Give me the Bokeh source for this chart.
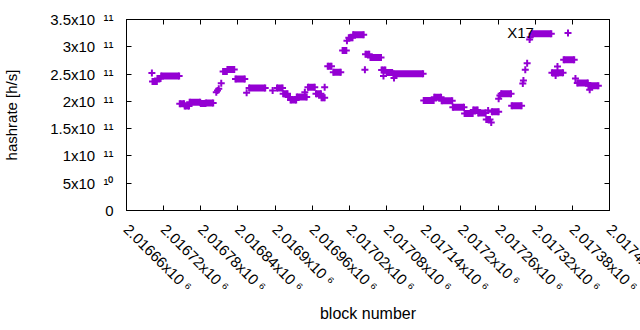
import numpy as np
from bokeh.plotting import figure
from bokeh.models import Range1d, FixedTicker, LinearAxis, ColumnDataSource, Label
from bokeh.embed import file_html
from bokeh.resources import INLINE

# ---------------- data ----------------
# runs of (nearly) constant hashrate: first block, last block, hashrate [1e9 h/s]
run_start = [2016702, 2016710, 2016716, 2016746, 2016754, 2016762, 2016780, 2016788,
             2016816, 2016823, 2016836, 2016858, 2016903, 2016913, 2016921, 2016925,
             2016935, 2016953, 2016966, 2016975, 2016985, 2016994, 2017009, 2017019,
             2017026, 2017046, 2017054, 2017072, 2017080, 2017091, 2017140, 2017157,
             2017169, 2017187, 2017206, 2017220, 2017228, 2017241, 2017250, 2017265,
             2017282, 2017315, 2017347, 2017366, 2017388, 2017406]
run_end = [2016709, 2016715, 2016745, 2016753, 2016761, 2016779, 2016787, 2016800,
           2016822, 2016834, 2016851, 2016884, 2016912, 2016920, 2016924, 2016934,
           2016951, 2016964, 2016974, 2016980, 2016991, 2017006, 2017015, 2017025,
           2017043, 2017052, 2017071, 2017078, 2017089, 2017139, 2017156, 2017168,
           2017186, 2017205, 2017219, 2017227, 2017240, 2017247, 2017261, 2017281,
           2017298, 2017346, 2017365, 2017383, 2017405, 2017422]
run_hash_g = [236.4, 241.9, 246.5, 195.5, 191.5, 198.5, 196.1, 197.0,
              254.7, 258.4, 241.0, 224.5, 224.5, 213.9, 208.0, 202.5,
              208.0, 226.0, 213.9, 206.5, 264.4, 253.4, 293.2, 316.5,
              322.0, 286.4, 280.4, 257.5, 252.9, 250.5, 201.6, 207.4,
              201.2, 189.1, 177.8, 184.2, 178.7, 166.8, 180.9, 213.9,
              191.9, 323.8, 252.5, 276.2, 233.6, 228.5]

# isolated blocks
pt_block = [2016701, 2016805, 2016807, 2016809, 2016813, 2016854, 2016896, 2016948,
            2016980, 2017016, 2017045, 2017075, 2017092, 2017244, 2017249, 2017261,
            2017263, 2017300, 2017301, 2017304, 2017307, 2017311, 2017312, 2017353,
            2017356, 2017373, 2017385, 2017408]
pt_hash_g = [252.0, 216.8, 220.0, 223.0, 233.3, 215.7, 219.9, 216.8,
             226.0, 311.0, 257.8, 246.5, 242.8, 183.3, 161.3, 204.7,
             210.7, 232.7, 238.2, 257.8, 269.9, 313.4, 317.6, 247.4,
             263.9, 325.3, 241.9, 221.2]

x_ticks = [2016660, 2016720, 2016780, 2016840, 2016900, 2016960, 2017020,
           2017080, 2017140, 2017200, 2017260, 2017320, 2017380, 2017440]
x_tick_mant = ["2.01666", "2.01672", "2.01678", "2.01684", "2.0169", "2.01696", "2.01702",
               "2.01708", "2.01714", "2.0172", "2.01726", "2.01732", "2.01738", "2.0174"]
x_tick_exp = ["6"] * 14

y_ticks = [0, 0.5e11, 1e11, 1.5e11, 2e11, 2.5e11, 3e11, 3.5e11]
y_tick_mant = ["0", "5", "1", "1.5", "2", "2.5", "3", "3.5"]
y_tick_exp = ["", "10", "11", "11", "11", "11", "11", "11"]

annot_text = "X17"
annot_block = 2017318
annot_hash = 3.27e11

# ---------------- layout ----------------
XMIN, XMAX = 2016660, 2017440
YMIN, YMAX = 0, 3.5e11
W, H = 700, 330
BL, BT, BB = 124, 19, 120
BR = W - 609

FONT = "Liberation Sans"
FS = "15px"
COL = "#9400d3"
SUP = str.maketrans("0123456789", "\u2070\u00b9\u00b2\u00b3\u2074\u2075\u2076\u2077\u2078\u2079")

def tick_text(m, e, gap):
    return m + "x10" + gap + e.translate(SUP) if e else m

p = figure(width=W, height=H, x_range=Range1d(XMIN, XMAX), y_range=Range1d(YMIN, YMAX),
           output_backend="svg", toolbar_location=None,
           min_border_left=BL, min_border_right=BR, min_border_top=BT, min_border_bottom=BB)
p.xgrid.visible = False
p.ygrid.visible = False
p.background_fill_color = "white"
p.border_fill_color = "white"
p.outline_line_color = "black"
p.outline_line_width = 1

def style_axis(ax, ticks):
    ax.ticker = FixedTicker(ticks=ticks)
    ax.major_tick_in = 5
    ax.major_tick_out = 0
    ax.minor_tick_line_color = None
    ax.major_tick_line_color = "black"
    ax.major_tick_line_width = 1
    ax.axis_line_color = "black"
    ax.major_label_text_font = FONT
    ax.major_label_text_font_size = FS
    ax.major_label_text_color = "black"
    ax.axis_label_text_font = FONT
    ax.axis_label_text_font_size = FS
    ax.axis_label_text_font_style = "normal"
    ax.axis_label_text_color = "black"

xa = p.xaxis[0]
style_axis(xa, x_ticks)
xa.major_label_overrides = {t: tick_text(m, e, " ")
                            for t, m, e in zip(x_ticks, x_tick_mant, x_tick_exp)}
xa.major_label_orientation = -np.pi / 4
xa.major_label_standoff = 16
xa.axis_label = "block number"
xa.axis_label_text_font_size = "16px"
xa.axis_label_standoff = 1

ya = p.yaxis[0]
style_axis(ya, y_ticks)
ya.major_label_overrides = {t: tick_text(m, e, "\u2007")
                            for t, m, e in zip(y_ticks, y_tick_mant, y_tick_exp)}
ya.major_label_standoff = 13
ya.axis_label = "hashrate [h/s]"
ya.axis_label_standoff = 27

for loc, ticks in (("above", x_ticks), ("right", y_ticks)):
    ax = LinearAxis()
    style_axis(ax, ticks)
    ax.major_label_text_font_size = "1px"
    ax.major_label_text_color = None
    ax.major_label_standoff = 0
    p.add_layout(ax, loc)

# ---------------- marks ----------------
rv = [v * 1e9 for v in run_hash_g]
src_runs = ColumnDataSource(dict(x0=run_start, x1=run_end, y=rv))
p.segment(x0="x0", y0="y", x1="x1", y1="y", source=src_runs, line_color=COL,
          line_width=7, line_cap="butt")
p.scatter(x="x0", y="y", source=src_runs, marker="cross", size=7, line_color=COL, line_width=2)
p.scatter(x="x1", y="y", source=src_runs, marker="cross", size=7, line_color=COL, line_width=2)
p.scatter(x=pt_block, y=[v * 1e9 for v in pt_hash_g], marker="cross", size=7,
          line_color=COL, line_width=2)

p.add_layout(Label(x=annot_block, y=annot_hash, text=annot_text,
                   text_align="right", text_baseline="middle",
                   text_font=FONT, text_font_size=FS, text_color="black"))

open("out.html", "w").write(file_html(p, INLINE))
